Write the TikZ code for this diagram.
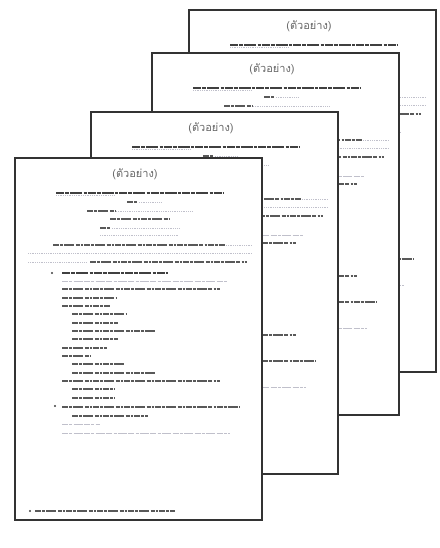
\documentclass[tikz,border=0pt]{standalone}
\usepackage{fontspec}
\newfontfamily\thaifont[Script=Thai]{Loma}

\begin{document}
\begin{tikzpicture}[x=1pt,y=-1pt,
  page/.style={fill=white,draw=black!80,line width=1.4pt},
  title/.style={font=\thaifont\fontsize{11}{12}\selectfont,text=gray!80!black,inner sep=0pt},
  txt/.style={line width=1.3pt,gray!70!black,dash pattern=on 6pt off 1.2pt on 3pt off 1pt on 10pt off 1.6pt on 4pt off 1.1pt on 2pt off 1pt},
  head/.style={line width=1.6pt,black!75,dash pattern=on 8pt off 1pt on 4pt off 1pt on 12pt off 1.5pt on 3pt off 1pt},
  lite/.style={line width=1pt,blue!10!gray!45,dash pattern=on 6pt off 1.3pt on 3pt off 1.3pt on 9pt off 1.5pt},
  dots/.style={line width=0.6pt,blue!10!gray!45,dash pattern=on 1pt off 0.8pt}]
\useasboundingbox (0,0) rectangle (439,548);
\foreach \px/\py in {189/10,152/53,91/112,15/158} {
\begin{scope}[shift={(\px,\py)}]
\draw[page] (0,0) rectangle (247,362);
\node[title] (tt) at (120,16) {(ตัวอย่าง)};
\foreach \y/\a/\b/\s in {35/41/208/head,37/41/100/dots,44/112/122/txt,44/124/147/dots,
  53/72/100/txt,53/101/177/dots,61/95/155/txt,70/85/96/txt,70/97/165/dots,77/85/163/dots,
  87/38/210/txt,87/211/237/dots,95/13/237/dots,104/13/72/dots,104/75/232/txt,
  115/47/153/head,123/47/213/lite,131/47/205/txt,140/47/102/txt,148/47/95/txt,
  156/57/112/txt,165/57/103/txt,173/57/140/txt,181/57/103/txt,190/47/92/txt,198/47/75/txt,
  206/57/110/txt,215/57/140/txt,223/47/205/txt,231/57/100/txt,240/57/100/txt,
  249/47/225/txt,258/57/133/txt,266/47/85/lite,275/47/215/lite,353/20/160/txt}
  \draw[\s] (\a,\y) -- (\b,\y);
\foreach \bx/\by in {37/115,40/248,15/353}
  \fill[black!75] (\bx,\by) circle[radius=1.2pt];
\end{scope}
}
\end{tikzpicture}
\end{document}
